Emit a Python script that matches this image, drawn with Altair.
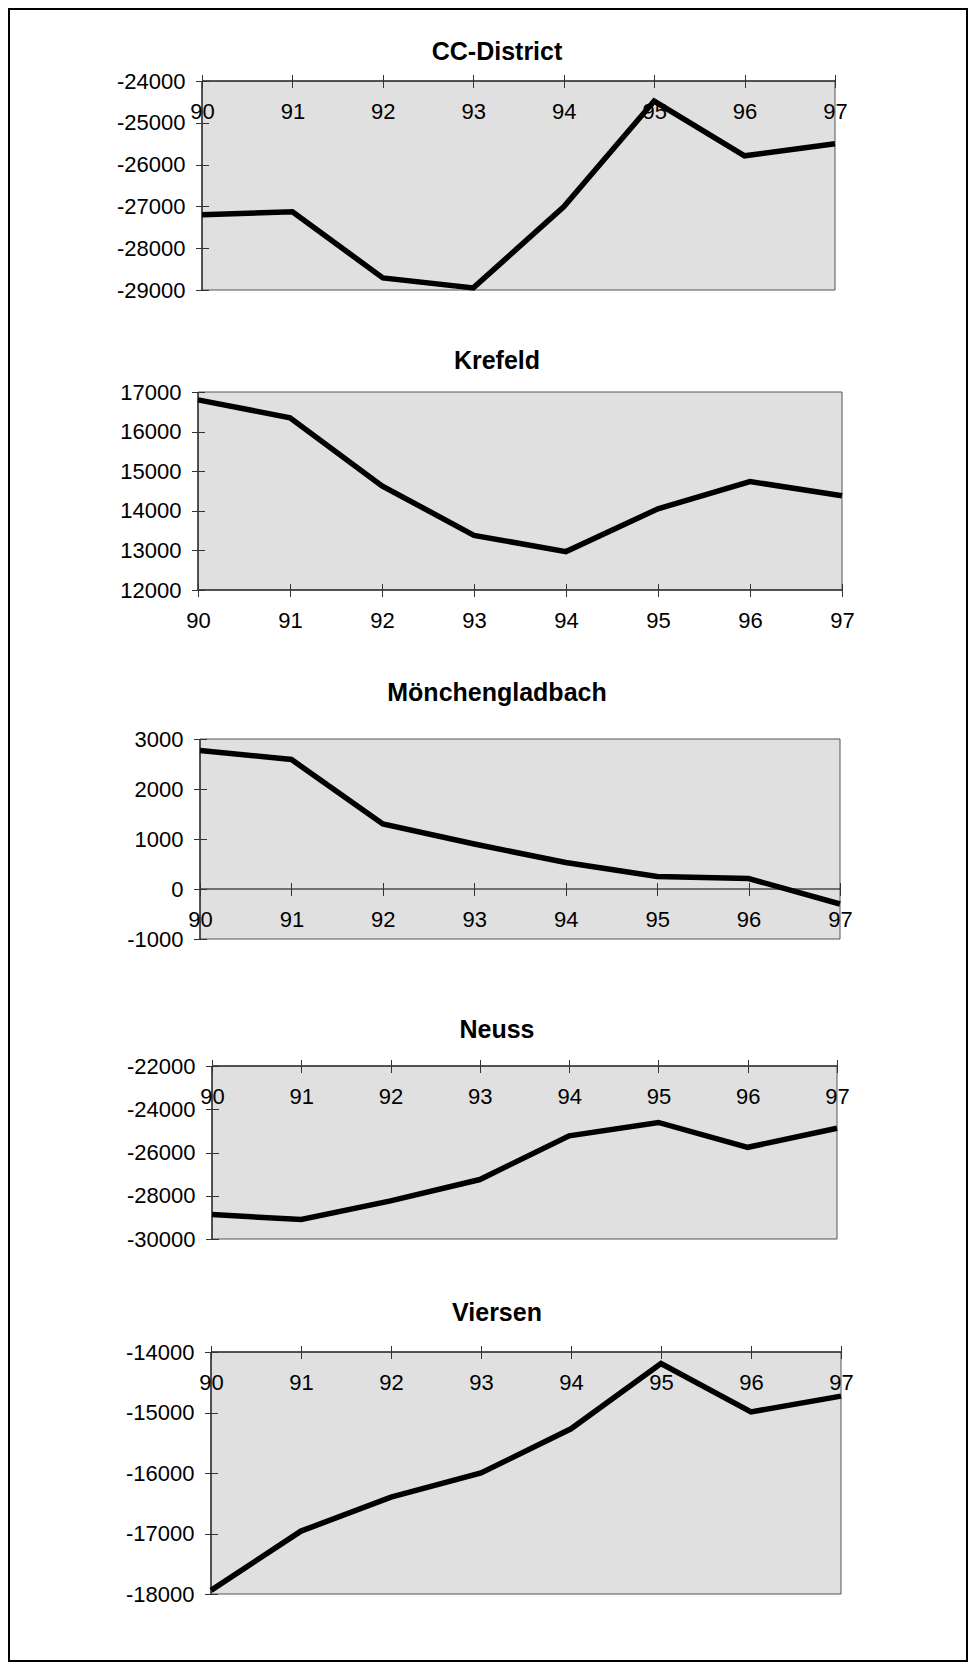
import altair as alt
import pandas as pd

# ---- data ----
years = [90, 91, 92, 93, 94, 95, 96, 97]
titles = ["CC-District", "Krefeld", "Mönchengladbach", "Neuss", "Viersen"]
cc_district = [-27200, -27130, -28710, -28950, -27010, -24480, -25790, -25500]
krefeld = [16800, 16350, 14630, 13380, 12970, 14050, 14740, 14380]
moenchengladbach = [2770, 2590, 1300, 900, 530, 250, 210, -300]
neuss = [-28870, -29100, -28240, -27250, -25230, -24610, -25760, -24880]
viersen = [-17940, -16960, -16400, -16000, -15270, -14190, -14990, -14730]
series = [cc_district, krefeld, moenchengladbach, neuss, viersen]

y_domains = [[-29000, -24000], [12000, 17000], [-1000, 3000], [-30000, -22000], [-18000, -14000]]
y_steps = [1000, 1000, 1000, 2000, 1000]
x_axis_at = [-24000, 12000, 0, -22000, -14000]

# ---- layout (pixels within the chart) ----
plot_left = [194, 190, 192, 204, 203]
plot_right = [827, 834, 832, 829, 833]
plot_top = [73, 384, 731, 1058, 1344]
plot_bottom = [282, 582, 931, 1231, 1586]
title_y = [52, 361, 693, 1030, 1313]
title_x = 489

FONT = "Liberation Sans"
TICK = 13

panels = []
for i in range(5):
    y0, y1 = y_domains[i]
    axis_px = plot_bottom[i] - (x_axis_at[i] - y0) / (y1 - y0) * (plot_bottom[i] - plot_top[i])
    xscale = alt.Scale(domain=[years[0], years[-1]], range=[plot_left[i], plot_right[i]], nice=False, zero=False)
    yscale = alt.Scale(domain=[y0, y1], range=[plot_bottom[i], plot_top[i]], nice=False, zero=False)
    xaxis = alt.Axis(orient="top", offset=-(axis_px + TICK / 2), values=years, tickSize=TICK,
                     domain=False, grid=False, labelPadding=-44, labelBaseline="alphabetic",
                     labelFont=FONT, labelFontSize=22, labelColor="black", tickColor="#333333",
                     labelFlush=False, labelOverlap=False, title=None, zindex=1, format="d")
    yvals = list(range(y0, y1 + 1, y_steps[i]))
    yaxis = alt.Axis(orient="left", offset=-(plot_left[i] + TICK / 2), values=yvals, tickSize=TICK,
                     domain=False, grid=False, labelPadding=10.5, labelBaseline="middle", labelAlign="right",
                     labelFont=FONT, labelFontSize=22, labelColor="black", tickColor="#333333",
                     labelFlush=False, labelOverlap=False, title=None, zindex=1,
                     labelExpr="'' + datum.value")

    frame = pd.DataFrame({"x0": [years[0]], "x1": [years[-1]], "y0": [y0], "y1": [y1], "ya": [x_axis_at[i]],
                          "title": [titles[i]]})
    line_df = pd.DataFrame({"year": years, "value": series[i]})

    bg = alt.Chart(frame).mark_rect(fill="#e0e0e0", stroke="#555555", strokeWidth=1).encode(
        x=alt.X("x0:Q", scale=xscale, axis=xaxis), x2="x1",
        y=alt.Y("y0:Q", scale=yscale, axis=yaxis), y2="y1")
    yline = alt.Chart(frame).mark_rule(color="black", strokeWidth=1).encode(
        x=alt.X("x0:Q", scale=xscale, axis=xaxis),
        y=alt.Y("y0:Q", scale=yscale, axis=yaxis), y2="y1")
    xline = alt.Chart(frame).mark_rule(color="black", strokeWidth=1).encode(
        x=alt.X("x0:Q", scale=xscale, axis=xaxis), x2="x1",
        y=alt.Y("ya:Q", scale=yscale, axis=yaxis))
    line = alt.Chart(line_df).mark_line(color="black", strokeWidth=5.5).encode(
        x=alt.X("year:Q", scale=xscale, axis=xaxis),
        y=alt.Y("value:Q", scale=yscale, axis=yaxis))
    ttl = alt.Chart(frame).mark_text(font=FONT, fontSize=25, fontWeight="bold", align="center",
                                     baseline="alphabetic", color="black").encode(
        x=alt.value(title_x), y=alt.value(title_y[i]), text="title:N")
    panels.append(alt.layer(bg, yline, xline, line, ttl))

chart = alt.layer(*panels).resolve_scale(x="independent", y="independent").properties(
    width=960, height=1654, padding=0, autosize=alt.AutoSizeParams(type="none"),
    background="white"
).configure_view(stroke="black", strokeWidth=4)

chart.save("out.html", embed_options={"renderer": "svg", "actions": False})
